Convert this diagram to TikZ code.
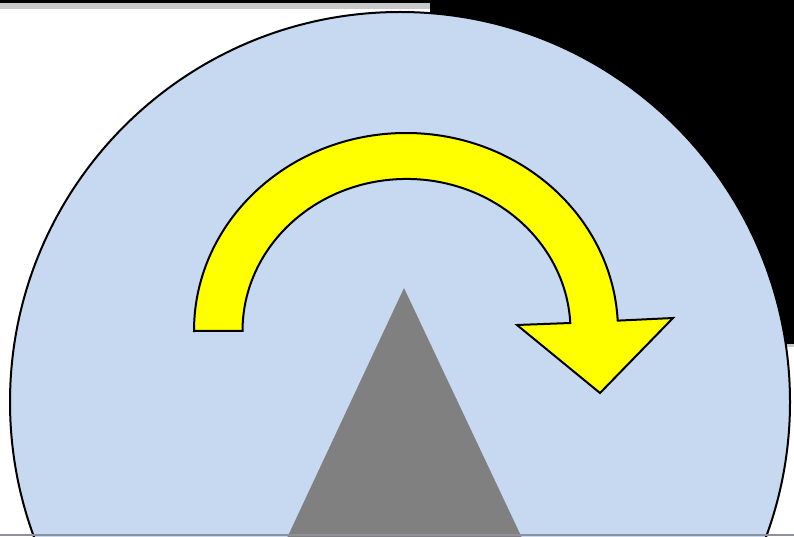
\documentclass[tikz,border=0pt]{standalone}
\definecolor{paleblue}{RGB}{198,217,240}
\definecolor{stripgray}{RGB}{200,200,200}
\definecolor{basegray}{RGB}{140,145,155}
\definecolor{arrowyellow}{RGB}{255,255,0}
\definecolor{trigray}{RGB}{128,128,128}
\tikzset{
  outline/.style={draw=black, line width=2pt, line join=miter},
}
\begin{document}
\begin{tikzpicture}[x=1pt,y=1pt]
\useasboundingbox (0,0) rectangle (794,536);
% background
\fill[white] (0,0) rectangle (794,536);
\fill[black] (430,191) rectangle (794,536);
\fill[black] (0,533) rectangle (794,536);
\fill[stripgray] (0,527) rectangle (430,533);
\draw[white, line width=0.8pt] (0,526.6) -- (430,526.6);
\fill[stripgray] (430,189) rectangle (794,192);
% circle
\node (disc) [circle, outline, fill=paleblue, minimum size=780pt, inner sep=0pt] at (400,134) {};
% triangle
\fill[trigray] (404,248) coordinate (apex) -- (522,-2) coordinate (br) -- (287,-2) coordinate (bl) -- cycle;
% curved arrow
\draw[outline, fill=arrowyellow] (194,205) coordinate (tailout)
  arc[start angle=180, end angle=3, x radius=212, y radius=198]
  -- (673,218) coordinate (barbR)
  -- (600,143) coordinate (tip)
  -- (517,211) coordinate (barbL)
  -- (570.3,213)
  arc[start angle=3, end angle=180, x radius=164, y radius=152]
  -- cycle;
% bottom edge
\fill[basegray] (0,0) rectangle (794,2);
\end{tikzpicture}
\end{document}
